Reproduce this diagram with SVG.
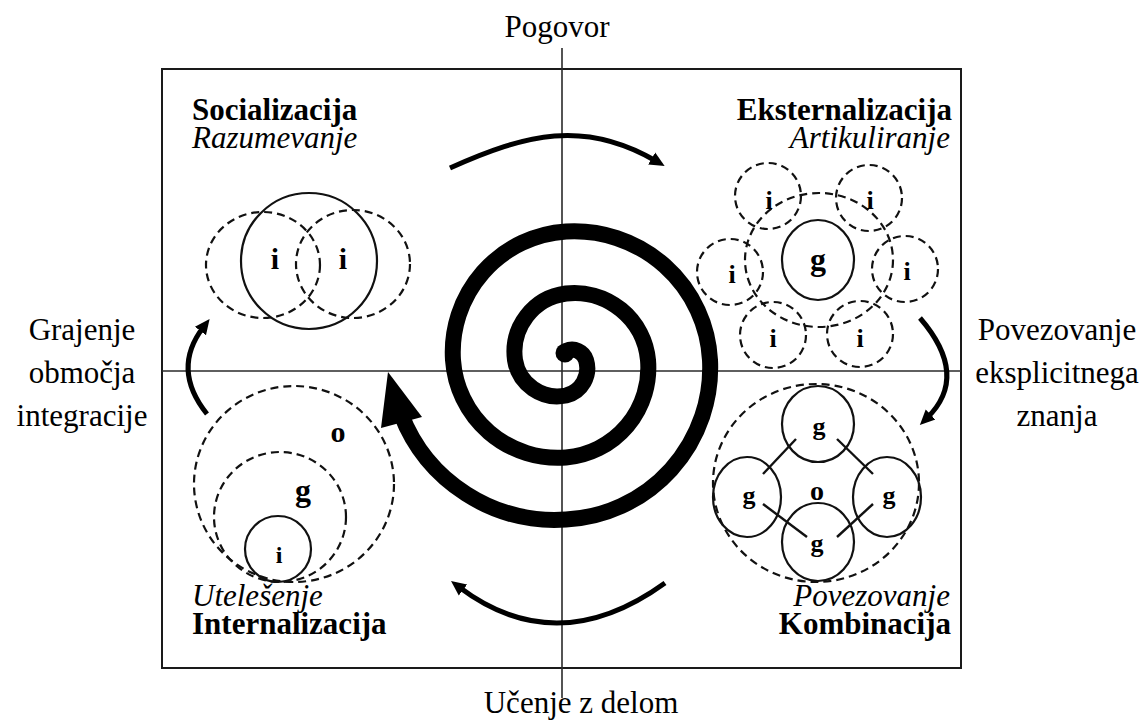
<svg xmlns="http://www.w3.org/2000/svg" width="1147" height="722" viewBox="0 0 1147 722">
<style>
.frame{fill:none;stroke:#1a1a1a;stroke-width:2}
.axis{stroke:#2a2a2a;stroke-width:1.6}
.dash{fill:none;stroke:#111;stroke-width:2.2;stroke-dasharray:8 5}
.solid{fill:none;stroke:#111;stroke-width:2.2}
.link{stroke:#111;stroke-width:2.4}
text{font-family:'Liberation Serif','Tinos','DejaVu Serif',serif;fill:#000}
.t{font-size:31px}
.b{font-weight:bold}
.i{font-style:italic}
.m{text-anchor:middle}
.e{text-anchor:end}
.lbl{font-weight:bold;text-anchor:middle}
.conn{fill:none;stroke:#000;stroke-width:5}
.spiral{fill:none;stroke:#000;stroke-width:16}
</style>
<defs>
<marker id="ah" markerUnits="userSpaceOnUse" markerWidth="20" markerHeight="20" viewBox="0 0 20 20" refX="5" refY="10" orient="auto">
<path d="M0,3 L15,10 L0,17 z" fill="#000"/>
</marker>
</defs>
<rect width="1147" height="722" fill="#fff"/>
<g id="frame">
<rect class="frame" x="162" y="69" width="799" height="599"/>
<line class="axis" x1="562" y1="48" x2="562" y2="698"/>
<line class="axis" x1="162" y1="371" x2="961" y2="371"/>
</g>
<g id="spiral">
<path class="spiral" d="M566,351 A14.5,14.5 0 0,1 586,360 A28,28 0 0,1 566,395.5 A43,43 0 0,1 515,360 A59,59 0 0,1 566,293.5 A74,74 0 0,1 648,360 A90,90 0 0,1 566,457.5 A105,105 0 0,1 453,360 A121,121 0 0,1 566,231.5 A136,136 0 0,1 710,360 A152,152 0 0,1 566,519.5 A165,165 0 0,1 401,414"/>
<circle cx="565" cy="353" r="9.5" fill="#000"/>
<polygon points="388,372 381,428 422,417" fill="#000"/>
</g>
<g id="socializacija" font-family="Liberation Serif, DejaVu Serif, serif">
<text class="t b" x="192" y="120">Socializacija</text>
<text class="t i" x="192" y="148">Razumevanje</text>
<ellipse class="dash" cx="263" cy="265" rx="57" ry="53"/>
<ellipse class="dash" cx="353" cy="264" rx="57" ry="54"/>
<circle class="solid" cx="309" cy="261" r="68"/>
<text class="lbl" font-size="30" x="275" y="269">i</text>
<text class="lbl" font-size="30" x="343" y="269">i</text>
</g>
<g id="eksternalizacija">
<text class="t b e" x="952" y="120">Eksternalizacija</text>
<text class="t i e" x="950" y="148">Artikuliranje</text>
<ellipse class="dash" cx="819" cy="260" rx="74" ry="67"/>
<circle class="dash" cx="768" cy="196" r="33"/>
<circle class="dash" cx="869" cy="198" r="33"/>
<circle class="dash" cx="730" cy="272" r="33"/>
<circle class="dash" cx="905" cy="269" r="33"/>
<circle class="dash" cx="773" cy="335" r="33"/>
<circle class="dash" cx="860" cy="334" r="33"/>
<ellipse class="solid" cx="818" cy="260" rx="36" ry="40"/>
<text class="lbl" font-size="26" x="769" y="209">i</text>
<text class="lbl" font-size="26" x="870" y="209">i</text>
<text class="lbl" font-size="26" x="732" y="283">i</text>
<text class="lbl" font-size="26" x="907" y="280">i</text>
<text class="lbl" font-size="26" x="773" y="347">i</text>
<text class="lbl" font-size="26" x="860" y="347">i</text>
<text class="lbl" font-size="32" x="818" y="270">g</text>
</g>
<g id="internalizacija">
<ellipse class="dash" cx="294" cy="484" rx="100" ry="98"/>
<ellipse class="dash" cx="280" cy="517" rx="66" ry="65"/>
<circle class="solid" cx="278" cy="549" r="33"/>
<text class="lbl" font-size="30" x="338" y="442">o</text>
<text class="lbl" font-size="32" x="303" y="501">g</text>
<text class="lbl" font-size="24" x="279" y="563">i</text>
<text class="t i" x="192" y="606">Utelešenje</text>
<text class="t b" x="192" y="634">Internalizacija</text>
</g>
<g id="kombinacija">
<ellipse class="dash" cx="816" cy="483" rx="103" ry="99"/>
<ellipse class="solid" cx="818" cy="424" rx="36" ry="38"/>
<ellipse class="solid" cx="747" cy="497" rx="34" ry="40"/>
<ellipse class="solid" cx="887" cy="497" rx="34" ry="40"/>
<ellipse class="solid" cx="818" cy="542" rx="36" ry="39"/>
<line class="link" x1="796" y1="439" x2="763" y2="474"/>
<line class="link" x1="837" y1="439" x2="873" y2="474"/>
<line class="link" x1="763" y1="504" x2="807" y2="537"/>
<line class="link" x1="873" y1="504" x2="837" y2="537"/>
<text class="lbl" font-size="26" x="819" y="435">g</text>
<text class="lbl" font-size="26" x="749" y="504">g</text>
<text class="lbl" font-size="26" x="889" y="504">g</text>
<text class="lbl" font-size="26" x="817" y="552">g</text>
<text class="lbl" font-size="28" x="817" y="500">o</text>
<text class="t i e" x="950" y="606">Povezovanje</text>
<text class="t b e" x="951" y="634">Kombinacija</text>
</g>
<g id="side-labels">
<text class="t m" x="557" y="37">Pogovor</text>
<text class="t m" x="581" y="713">Učenje z delom</text>
<text class="t m" x="82" y="340">Grajenje</text>
<text class="t m" x="82" y="383">območja</text>
<text class="t m" x="82" y="426">integracije</text>
<text class="t m" x="1057" y="340">Povezovanje</text>
<text class="t m" x="1057" y="383">eksplicitnega</text>
<text class="t m" x="1057" y="426">znanja</text>
</g>
<g id="connectors">
<path class="conn" marker-end="url(#ah)" d="M450,168 C526,134 584,119 656,161"/>
<path class="conn" marker-end="url(#ah)" d="M920,318 Q970,376 927,418"/>
<path class="conn" marker-end="url(#ah)" d="M665,583 Q557,661 459,587"/>
<path class="conn" marker-end="url(#ah)" d="M207,414 Q171,369 203.5,327"/>
</g>
</svg>
